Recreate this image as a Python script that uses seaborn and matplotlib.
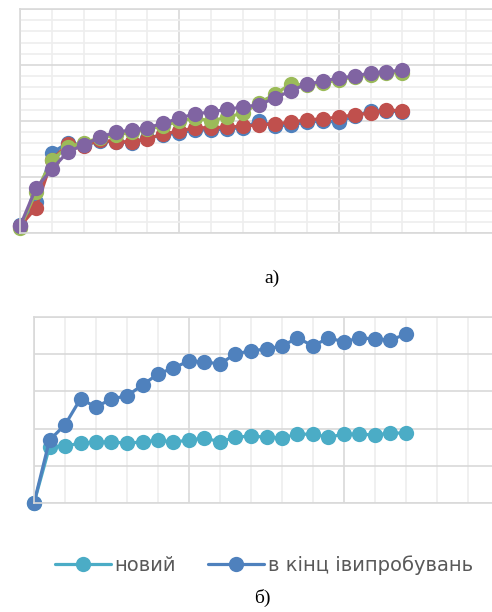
import matplotlib
matplotlib.use("Agg")
import matplotlib.pyplot as plt
from matplotlib.ticker import MultipleLocator
import seaborn as sns
import pandas as pd

# ---------------- data ----------------
points = list(range(25))

# chart a)
a_blue = [0.14, 0.55, 1.43, 1.61, 1.57, 1.64, 1.63, 1.61, 1.70, 1.75, 1.79, 1.84, 1.84,
          1.86, 1.88, 2.00, 1.91, 1.93, 1.98, 2.00, 1.98, 2.09, 2.18, 2.18, 2.16]
a_red = [0.12, 0.45, 1.30, 1.59, 1.55, 1.66, 1.63, 1.63, 1.68, 1.77, 1.82, 1.88, 1.88,
         1.89, 1.91, 1.93, 1.95, 1.98, 2.02, 2.04, 2.07, 2.11, 2.14, 2.20, 2.18]
a_green = [0.09, 0.73, 1.30, 1.54, 1.61, 1.70, 1.75, 1.80, 1.86, 1.91, 2.00, 2.05, 2.00,
           2.07, 2.14, 2.32, 2.48, 2.66, 2.64, 2.68, 2.73, 2.79, 2.82, 2.86, 2.86]
a_purple = [0.12, 0.80, 1.14, 1.45, 1.57, 1.71, 1.80, 1.84, 1.88, 1.96, 2.05, 2.13, 2.16,
            2.21, 2.25, 2.29, 2.41, 2.54, 2.66, 2.71, 2.77, 2.80, 2.86, 2.88, 2.91]

# chart б)
series_names = ["новий", "в кінц івипробувань"]
b_new = [0.0, 1.51, 1.53, 1.61, 1.64, 1.64, 1.61, 1.64, 1.69, 1.64, 1.69, 1.75, 1.64,
         1.77, 1.80, 1.77, 1.75, 1.85, 1.85, 1.77, 1.85, 1.85, 1.83, 1.88, 1.88]
b_end = [0.0, 1.69, 2.10, 2.80, 2.58, 2.80, 2.88, 3.17, 3.47, 3.63, 3.82, 3.79, 3.74,
         4.01, 4.09, 4.14, 4.22, 4.44, 4.22, 4.44, 4.33, 4.44, 4.41, 4.38, 4.54]

label_a = "а)"
label_b = "б)"

# ---------------- style ----------------
sns.set_style("white")
plt.rcParams["font.family"] = ["DejaVu Sans"]

W, H = 492, 612
fig = plt.figure(figsize=(W / 100, H / 100), dpi=100)

MAJ = "#d9d9d9"
MIN = "#eeeeee"


def style_axes(ax, xmax, ymax, ymin_step):
    ax.set_xlim(0, xmax)
    ax.set_ylim(0, ymax)
    ax.xaxis.set_major_locator(MultipleLocator(10))
    ax.xaxis.set_minor_locator(MultipleLocator(2))
    ax.yaxis.set_major_locator(MultipleLocator(1))
    if ymin_step:
        ax.yaxis.set_minor_locator(MultipleLocator(ymin_step))
        ax.grid(which="minor", axis="y", color=MIN, lw=1.2)
    ax.grid(which="minor", axis="x", color=MIN, lw=1.2)
    ax.grid(which="major", color=MAJ, lw=1.2)
    ax.set_axisbelow(True)
    ax.tick_params(which="both", length=0, labelbottom=False, labelleft=False)
    ax.set_xlabel("")
    ax.set_ylabel("")
    for s in ax.spines.values():
        s.set_color(MAJ)
        s.set_linewidth(1.2)
    if ax.get_legend():
        ax.get_legend().remove()


# ---------- chart a ----------
ax1 = fig.add_axes([20 / W, 1 - 233 / H, 478 / W, 224 / H])
for vals, col in [(a_blue, "#4F81BD"), (a_red, "#C0504D"),
                  (a_green, "#9BBB59"), (a_purple, "#8064A2")]:
    sns.lineplot(x=points, y=vals, ax=ax1, color=col, marker="o", markersize=11,
                 markeredgewidth=0, linewidth=2.3, clip_on=False)
style_axes(ax1, 30, 4, 0.2)

fig.text(272 / W, 1 - 278 / H, label_a, ha="center", va="center",
         family="Liberation Serif", fontsize=14, color="black")

# ---------- chart b ----------
ax2 = fig.add_axes([34 / W, 1 - 503 / H, 465 / W, 186 / H])
df = pd.DataFrame({
    "x": points * 2,
    "y": b_new + b_end,
    "s": [series_names[0]] * len(points) + [series_names[1]] * len(points),
})
sns.lineplot(data=df, x="x", y="y", hue="s", ax=ax2,
             palette={series_names[0]: "#4BACC6", series_names[1]: "#4F81BD"},
             marker="o", markersize=11, markeredgewidth=0, linewidth=2.3,
             clip_on=False)
handles, labels = ax2.get_legend_handles_labels()
style_axes(ax2, 30, 5, None)

leg = fig.legend(handles, labels, loc="center", bbox_to_anchor=(264 / W, 1 - 565 / H),
                 ncol=2, frameon=False, fontsize=14, handlelength=2.85,
                 handletextpad=0.2, columnspacing=1.65, labelcolor="#595959")

fig.text(262 / W, 1 - 598 / H, label_b, ha="center", va="center",
         family="Liberation Serif", fontsize=14, color="black")

fig.savefig("out.png", dpi=100)
